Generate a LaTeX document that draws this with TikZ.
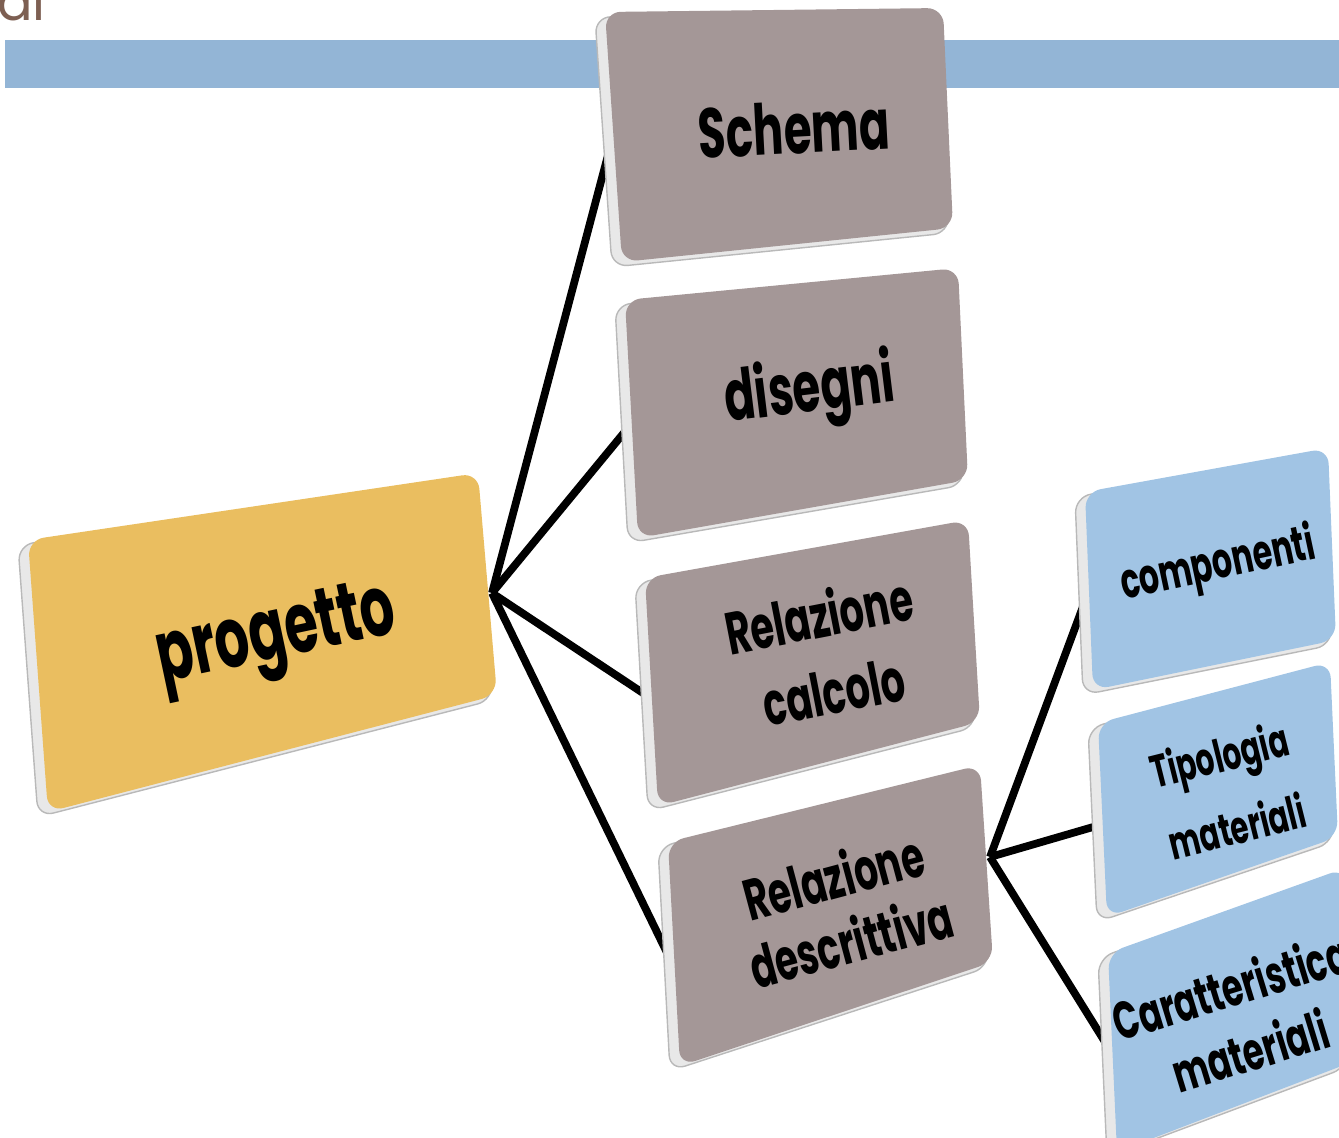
\documentclass[tikz,border=0pt]{standalone}
\usepackage{fontspec}
\newfontfamily\pop{Poppins}
\usetikzlibrary{calc}
\definecolor{mauve}{RGB}{164,151,151}
\definecolor{gold}{RGB}{234,190,96}
\definecolor{skyb}{RGB}{161,196,228}
\definecolor{banner}{RGB}{147,181,214}
\definecolor{titlebrown}{RGB}{125,95,82}
\newcommand\drawface[2]{%
  \fill[bevel] ([shift={(-10,5)}]#1a) -- ([shift={(-4,5)}]#1b) -- ([shift={(-4,5)}]#1c) -- ([shift={(-10,5)}]#1d) -- cycle;
  \fill[#2, rounded corners=9pt] (#1a) -- (#1b) -- (#1c) -- (#1d) -- cycle;}
\tikzset{
  bevel/.style={fill=white!82!gray, draw=gray!55, line width=0.8pt, rounded corners=9pt},
  conn/.style={line width=4.4pt, black},
  lbl/.style={rotate=#1, xscale=0.64, transform shape, align=center, inner sep=0pt, text=black},
}
\begin{document}
\begin{tikzpicture}[x=0.02cm,y=-0.02cm]
\useasboundingbox (0,0) rectangle (1339,1138);
\clip (0,0) rectangle (1339,1138);
% title remnant and banner
\node[anchor=base west, inner sep=0pt, text=titlebrown, font=\pop\fontsize{30}{32}\selectfont] (al) at (-3,21) {al};
\fill[banner] (5,40) rectangle (1339,88);
% corner coordinates
\coordinate (Pa) at (28,540);   \coordinate (Pb) at (478,473);  \coordinate (Pc) at (497,695);  \coordinate (Pd) at (48,812);
\coordinate (Sa) at (605,12);   \coordinate (Sb) at (943,8);    \coordinate (Sc) at (953,228);  \coordinate (Sd) at (622,262);
\coordinate (Da) at (625,300);  \coordinate (Db) at (958,268);  \coordinate (Dc) at (968,480);  \coordinate (Dd) at (638,538);
\coordinate (Ca) at (645,578);  \coordinate (Cb) at (968,520);  \coordinate (Cc) at (980,722);  \coordinate (Cd) at (658,806);
\coordinate (Ra) at (668,842);  \coordinate (Rb) at (980,765);  \coordinate (Rc) at (993,962);  \coordinate (Rd) at (680,1066);
\coordinate (Ka) at (1085,492); \coordinate (Kb) at (1328,448); \coordinate (Kc) at (1336,640); \coordinate (Kd) at (1093,690);
\coordinate (Ta) at (1098,723); \coordinate (Tb) at (1330,662); \coordinate (Tc) at (1338,837); \coordinate (Td) at (1107,917);
\coordinate (Xa) at (1108,953); \coordinate (Xb) at (1345,868); \coordinate (Xc) at (1352,1062); \coordinate (Xd) at (1117,1152);
% connector end points
\coordinate (hub) at (492,593);
\coordinate (eS) at (612,140);
\coordinate (eD) at (632,423);
\coordinate (eC) at (652,699);
\coordinate (eR) at (672,963);
\coordinate (hub2) at (990,857);
\coordinate (eK) at (1088,593);
\coordinate (eT) at (1100,825);
\coordinate (eX) at (1110,1050);
% connectors (drawn under boxes)
\draw[conn] (hub) -- (eS);
\draw[conn] (hub) -- (eD);
\draw[conn] (hub) -- (eC);
\draw[conn] (hub) -- (eR);
\draw[conn] (hub2) -- (eK);
\draw[conn] (hub2) -- (eT);
\draw[conn] (hub2) -- (eX);
% boxes
\drawface{P}{gold}
\drawface{S}{mauve}
\drawface{D}{mauve}
\drawface{C}{mauve}
\drawface{R}{mauve}
\drawface{K}{skyb}
\drawface{T}{skyb}
\drawface{X}{skyb}
% labels
\node[lbl=12, font=\pop\bfseries\fontsize{48}{52}\selectfont] (tProg) at (277,640) {progetto};
\node[lbl=3, font=\pop\bfseries\fontsize{40}{46}\selectfont] (tSchema) at (794,128) {Schema};
\node[lbl=7, font=\pop\bfseries\fontsize{40}{46}\selectfont] (tDis) at (810,393) {disegni};
\node[lbl=11, font=\pop\bfseries\fontsize{34}{44}\selectfont] (tCalc) at (826,652) {Relazione\\calcolo};
\node[lbl=15, font=\pop\bfseries\fontsize{33}{38}\selectfont] (tDesc) at (842,908) {Relazione\\descrittiva};
\node[lbl=12, font=\pop\bfseries\fontsize{28}{32}\selectfont] (tComp) at (1218,566) {componenti};
\node[lbl=14, font=\pop\bfseries\fontsize{26}{42}\selectfont] (tTip) at (1228,790) {Tipologia\\materiali};
\node[lbl=17, font=\pop\bfseries\fontsize{30}{38}\selectfont] (tCar) at (1240,1018) {Caratteristica\\materiali};
\end{tikzpicture}
\end{document}
